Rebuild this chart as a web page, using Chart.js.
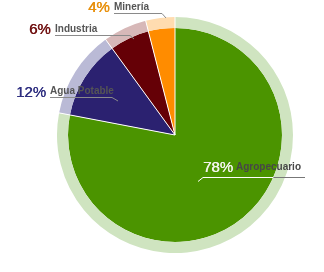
<!DOCTYPE html>
<html>
<head>
<meta charset="utf-8">
<script src="https://cdn.jsdelivr.net/npm/chart.js@4.4.0/dist/chart.umd.min.js"></script>
<style>
  html, body { margin: 0; padding: 0; background: #fff; }
  #wrap { width: 324px; height: 272px; }
</style>
</head>
<body>
<div id="wrap"><canvas id="pie" width="324" height="272"></canvas></div>
<script>
// uso del agua por sector (%)
const categories = ['Agropecuario', 'Agua Potable', 'Industria', 'Minería'];
const shares = [78, 12, 6, 4];

const sliceColors = ['#4b9400', '#2b2170', '#650006', '#ff8c00'];
const ringColors = ['#cfe4c0', '#babad6', '#d7b8b8', '#ffdcb0'];
const percentColors = ['#f4f4ec', '#2f2f80', '#701010', '#e8900c'];

// where each callout sits: [pctX, pctBase, nameX, nameBase, lineY, lineEndX, tipX, tipY]
const callouts = [
    [203, 172, 236, 170, 177, 305, 198, 181],
    [16, 97, 50, 94, 97, 112, 118, 101],
    [29, 34, 55, 32, 35, 130, 134, 39],
    [88, 12, 114, 10, 13, 162, 166, 18]
];

// thin white cuts between slices, through ring and pie alike
const separatorPlugin = {
    id: 'separators',
    afterDatasetsDraw(chart) {
        const ctx = chart.ctx;
        const ring = chart.getDatasetMeta(0).data;
        ctx.save();
        ctx.strokeStyle = '#ffffff';
        ctx.lineWidth = 1;
        ring.forEach(a => {
            ctx.beginPath();
            ctx.moveTo(a.x, a.y);
            ctx.lineTo(a.x + Math.cos(a.startAngle) * (a.outerRadius + 1), a.y + Math.sin(a.startAngle) * (a.outerRadius + 1));
            ctx.stroke();
        });
        ctx.restore();
    }
};

const calloutPlugin = {
    id: 'callouts',
    afterDraw(chart) {
        const ctx = chart.ctx;
        const arc = chart.getDatasetMeta(1).data[0];
        const cx = arc.x, cy = arc.y, rIn = arc.outerRadius;
        ctx.save();
        categories.forEach((name, i) => {
            const [px, pb, nx, nb, ly, lx, tx, ty] = callouts[i];
            ctx.lineWidth = 1;
            if (i === 0) {
                // leader runs from the green slice out past the ring
                const edge = cx + Math.sqrt(rIn * rIn - (ly - cy) * (ly - cy));
                ctx.strokeStyle = '#ffffff';
                ctx.beginPath();
                ctx.moveTo(tx, ty + 0.5);
                ctx.lineTo(nx - 33, ly + 0.5);
                ctx.lineTo(edge, ly + 0.5);
                ctx.stroke();
                ctx.strokeStyle = '#777777';
                ctx.beginPath();
                ctx.moveTo(edge, ly + 0.5);
                ctx.lineTo(lx, ly + 0.5);
                ctx.stroke();
            } else {
                ctx.strokeStyle = '#8a8a8a';
                ctx.beginPath();
                ctx.moveTo(nx, ly + 0.5);
                ctx.lineTo(lx, ly + 0.5);
                ctx.lineTo(tx, ty);
                ctx.stroke();
            }
            ctx.textBaseline = 'alphabetic';
            ctx.textAlign = 'left';
            ctx.font = '15px "Liberation Sans", Arial, sans-serif';
            ctx.fillStyle = percentColors[i];
            ctx.fillText(shares[i] + '%', px, pb);
            ctx.fillText(shares[i] + '%', px + 0.4, pb);
            ctx.font = 'bold 10px "Liberation Sans", Arial, sans-serif';
            ctx.fillStyle = i === 0 ? '#474747' : '#555555';
            ctx.fillText(name, nx, nb);
        });
        ctx.restore();
    }
};

new Chart(document.getElementById('pie').getContext('2d'), {
    type: 'doughnut',
    data: {
        labels: categories,
        datasets: [
            {
                data: shares,
                backgroundColor: ringColors,
                borderWidth: 0,
                weight: 11
            },
            {
                data: shares,
                backgroundColor: sliceColors,
                borderWidth: 0,
                weight: 107
            }
        ]
    },
    options: {
        responsive: false,
        animation: false,
        cutout: 0,
        layout: { padding: { left: 57, right: 31, top: 17, bottom: 19 } },
        plugins: {
            legend: { display: false },
            tooltip: { enabled: false }
        }
    },
    plugins: [separatorPlugin, calloutPlugin]
});
</script>
</body>
</html>
